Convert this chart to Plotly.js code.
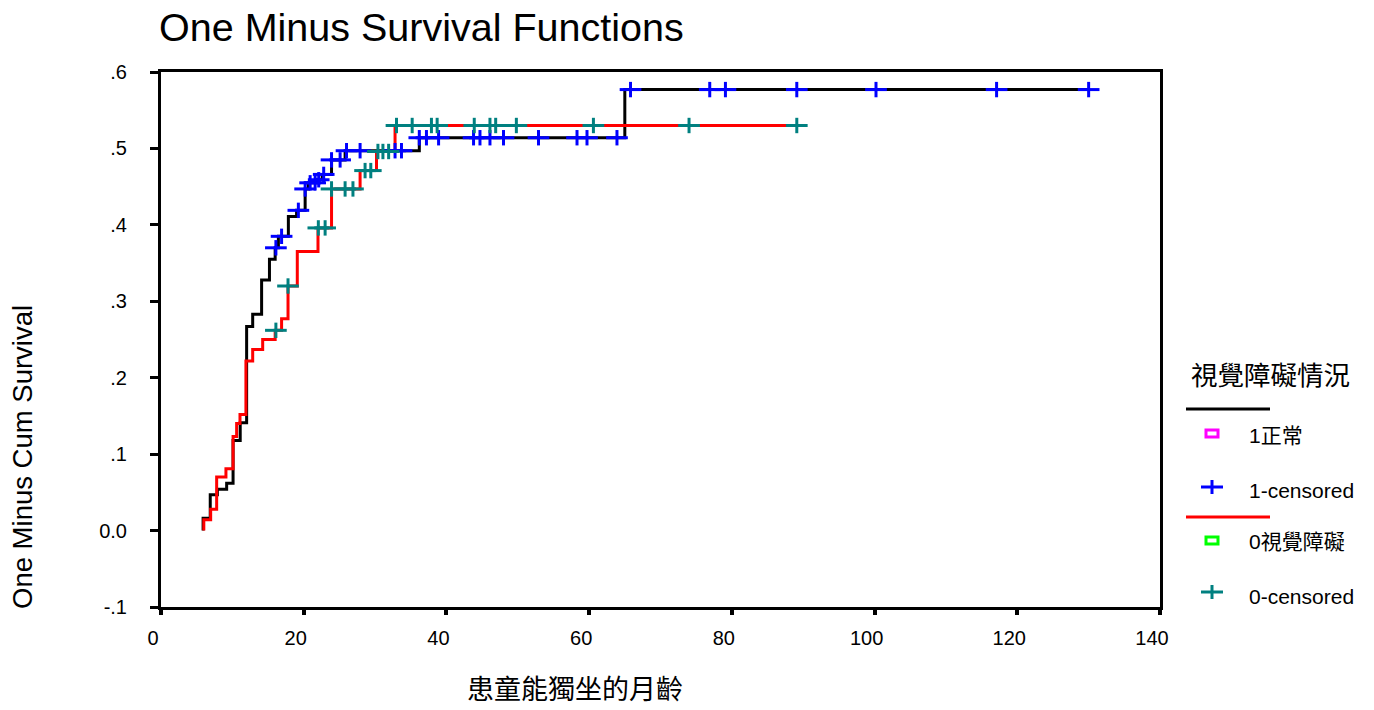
<!DOCTYPE html>
<html>
<head>
<meta charset="utf-8">
<script src="https://cdn.plot.ly/plotly-3.0.1.min.js"></script>
<style>html,body{margin:0;padding:0;background:#fff;}#chart{width:1374px;height:710px;}</style>
</head>
<body>
<div id="chart"></div>
<script>
// ---- Data (time in months, value = 1 - cumulative survival) ----
// Group 1 (正常): event times and curve level after each event
const eventTimes1 = [5.9, 6.9, 7.9, 9.2, 10.1, 11.1, 12.0, 12.85, 14.1, 15.2, 16.0, 16.45, 17.85, 19.0, 20.2, 20.65, 21.9, 22.6, 23.9, 25.8, 36.2, 65.0];
const levels1     = [0.016, 0.047, 0.054, 0.062, 0.118, 0.141, 0.267, 0.283, 0.328, 0.355, 0.370, 0.385, 0.411, 0.419, 0.447, 0.455, 0.459, 0.466, 0.485, 0.497, 0.514, 0.577];
const censored1   = [16.1, 16.9, 19.25, 20.2, 20.9, 21.6, 22.1, 22.8, 23.9, 25.1, 26.0, 27.9, 32.8, 33.7, 36.2, 37.2, 38.9, 43.8, 44.7, 46.1, 48.0, 52.9, 58.3, 59.7, 63.9, 65.8, 76.9, 79.1, 89.1, 100.2, 117.1, 130.0];
// Group 0 (視覺障礙)
const eventTimes0 = [6.0, 6.96, 7.8, 9.1, 10.1, 10.6, 11.07, 11.9, 12.85, 14.25, 16.0, 16.9, 17.8, 19.1, 22.0, 23.9, 27.9, 30.2, 32.8];
const levels0     = [0.014, 0.028, 0.070, 0.081, 0.123, 0.140, 0.152, 0.222, 0.237, 0.250, 0.262, 0.277, 0.320, 0.365, 0.396, 0.447, 0.471, 0.496, 0.530];
const censored0   = [16.1, 17.8, 22.05, 23.0, 23.9, 25.8, 26.9, 28.6, 29.4, 30.4, 31.1, 31.9, 33.0, 35.2, 37.9, 38.7, 43.9, 46.1, 46.9, 49.8, 60.6, 74.0, 89.1];

const xTickVals = [0, 20, 40, 60, 80, 100, 120, 140];
const yTickVals = [-0.1, 0, 0.1, 0.2, 0.3, 0.4, 0.5, 0.6];
const yTickText = ['-.1', '0.0', '.1', '.2', '.3', '.4', '.5', '.6'];

const titleText = 'One Minus Survival Functions';
const xTitle = '患童能獨坐的月齡';
const yTitle = 'One Minus Cum Survival';
const legendTitle = '視覺障礙情況';
const legendLabels = ['1正常', '1-censored', '0視覺障礙', '0-censored'];

// ---- helpers ----
function levelAt(times, levels, t) {
  let y = 0;
  for (let i = 0; i < times.length; i++) if (times[i] <= t + 1e-9) y = levels[i];
  return y;
}
function stepTrace(times, levels, cens, color) {
  const end = Math.max(cens[cens.length - 1], times[times.length - 1]);
  return {
    type: 'scatter', mode: 'lines',
    x: [times[0]].concat(times, [end]),
    y: [0].concat(levels, [levels[levels.length - 1]]),
    line: {shape: 'hv', color: color, width: 3},
    hoverinfo: 'skip', showlegend: false
  };
}
function censorTraces(times, levels, cens, color) {
  const ys = cens.map(t => levelAt(times, levels, t));
  const base = {type: 'scatter', mode: 'markers', x: cens, y: ys, hoverinfo: 'skip', showlegend: false};
  return [
    Object.assign({}, base, {marker: {symbol: 'line-ew', size: 15.5, line: {color: color, width: 3}}}),
    Object.assign({}, base, {marker: {symbol: 'line-ns', size: 11, line: {color: color, width: 3}}})
  ];
}

const C_BLUE = '#0000ff', C_TEAL = '#008080';
const traces = [
  stepTrace(eventTimes1, levels1, censored1, '#000000'),
  stepTrace(eventTimes0, levels0, censored0, '#ff0000'),
  ...censorTraces(eventTimes1, levels1, censored1, C_BLUE),
  ...censorTraces(eventTimes0, levels0, censored0, C_TEAL)
];

// plot area pixels: x 161..1160, y 72..607
const L = 161, R = 1160, T = 72, B = 607;
const px = v => (v - L) / (R - L);
const py = v => (B - v) / (B - T);

const FONT = "'Liberation Sans', Arial, 'Noto Sans CJK TC', sans-serif";

const shapes = [
  {type: 'line', xref: 'paper', yref: 'paper', x0: px(1186), x1: px(1270), y0: py(409), y1: py(409), line: {color: '#000', width: 3}},
  {type: 'rect', xref: 'paper', yref: 'paper', x0: px(1206), x1: px(1218), y0: py(430), y1: py(437), line: {color: '#ff00ff', width: 3}},
  {type: 'line', xref: 'paper', yref: 'paper', x0: px(1201), x1: px(1223), y0: py(487), y1: py(487), line: {color: C_BLUE, width: 3}},
  {type: 'line', xref: 'paper', yref: 'paper', x0: px(1212), x1: px(1212), y0: py(480), y1: py(494), line: {color: C_BLUE, width: 3}},
  {type: 'line', xref: 'paper', yref: 'paper', x0: px(1186), x1: px(1270), y0: py(517), y1: py(517), line: {color: '#ff0000', width: 3}},
  {type: 'rect', xref: 'paper', yref: 'paper', x0: px(1206), x1: px(1218), y0: py(537), y1: py(544), line: {color: '#00ff00', width: 3}},
  {type: 'line', xref: 'paper', yref: 'paper', x0: px(1201), x1: px(1223), y0: py(592), y1: py(592), line: {color: C_TEAL, width: 3}},
  {type: 'line', xref: 'paper', yref: 'paper', x0: px(1212), x1: px(1212), y0: py(585), y1: py(599), line: {color: C_TEAL, width: 3}}
];

const ann = (text, x, y, opts) => Object.assign({
  text: text, xref: 'paper', yref: 'paper', x: x, y: y, showarrow: false,
  xanchor: 'left', yanchor: 'middle', font: {family: FONT, size: 21, color: '#000'}
}, opts || {});

const annotations = [
  ann(yTitle, px(22), py(457), {xanchor: 'center', textangle: -90, font: {family: FONT, size: 27.5, color: '#000'}}),
  ann(xTitle, px(575), py(690), {xanchor: 'center', font: {family: FONT, size: 27, color: '#000'}}),
  ann(legendTitle, px(1270), py(376), {xanchor: 'center', font: {family: FONT, size: 26.5, color: '#000'}}),
  ann(legendLabels[0], px(1247), py(436)),
  ann(legendLabels[1], px(1247), py(490)),
  ann(legendLabels[2], px(1247), py(541)),
  ann(legendLabels[3], px(1247), py(596))
];

const layout = {
  width: 1374, height: 710,
  margin: {l: L, r: 1374 - R, t: T, b: 710 - B, pad: 0},
  paper_bgcolor: '#ffffff', plot_bgcolor: '#ffffff',
  showlegend: false,
  font: {family: FONT, color: '#000'},
  title: {text: titleText, x: 159 / 1374, xref: 'container', xanchor: 'left', y: 1 - 27 / 710, yref: 'container', yanchor: 'middle',
          font: {family: FONT, size: 39.5, color: '#000'}},
  xaxis: {
    range: [0, 140], tickvals: xTickVals, ticktext: xTickVals.map(String),
    showgrid: false, zeroline: false, showline: true, mirror: true, linecolor: '#000', linewidth: 3,
    ticks: 'outside', ticklen: 5, tickwidth: 4, tickcolor: '#000',
    tickfont: {family: FONT, size: 20, color: '#000'}, ticklabelshift: -8, ticklabelstandoff: 6
  },
  yaxis: {
    range: [-0.1, 0.6], tickvals: yTickVals, ticktext: yTickText,
    showgrid: false, zeroline: false, showline: true, mirror: true, linecolor: '#000', linewidth: 3,
    ticks: 'outside', ticklen: 8, tickwidth: 3, tickcolor: '#000',
    tickfont: {family: FONT, size: 20, color: '#000'}, ticklabelstandoff: 19
  },
  shapes: shapes,
  annotations: annotations
};

Plotly.newPlot('chart', traces, layout, {staticPlot: true, displayModeBar: false});
</script>
</body>
</html>
